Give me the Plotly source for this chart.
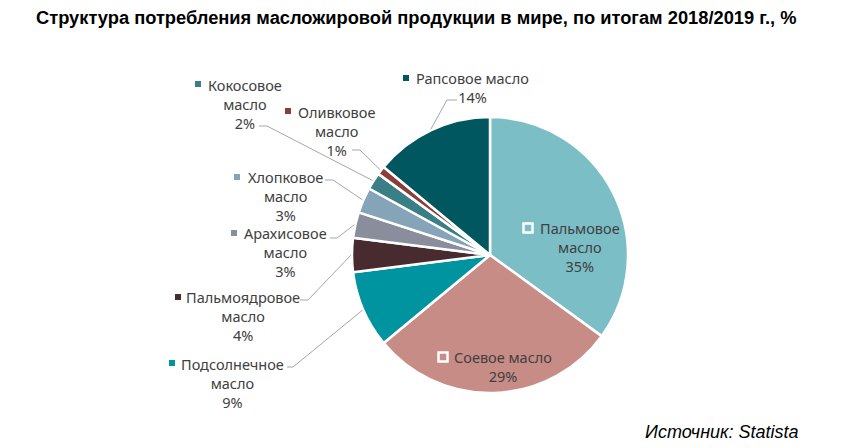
import math
import plotly.graph_objects as go

# ---- data ----
labels = ["Пальмовое масло", "Соевое масло", "Подсолнечное масло", "Пальмоядровое масло",
          "Арахисовое масло", "Хлопковое масло", "Кокосовое масло", "Оливковое масло",
          "Рапсовое масло"]
values = [35, 29, 9, 4, 3, 3, 2, 1, 14]
label_lines = [["Пальмовое", "масло"], ["Соевое масло"], ["Подсолнечное", "масло"],
               ["Пальмоядровое", "масло"], ["Арахисовое", "масло"], ["Хлопковое", "масло"],
               ["Кокосовое", "масло"], ["Оливковое", "масло"], ["Рапсовое масло"]]
colors = ["#7BBEC6", "#C78C86", "#0094A0", "#472B2F", "#8A8D9B", "#86A4B8",
          "#3A7F85", "#8B3E37", "#005760"]

title_text = "Структура потребления масложировой продукции в мире, по итогам 2018/2019 г., %"
source_text = "Источник: Statista"

# ---- layout (pixels) ----
W, H = 847, 448
CX, CY, R = 490, 255, 138
FONT_SIZE = 14.5
LINE_H = 1.3 * FONT_SIZE

def px(x):
    return x / W

def py(y):
    return 1 - y / H

# first-line center, marker position, inside flag, leader (start_x, knee_x, y)
label_layout = [
    dict(cx=580, fy=228, mx=528, my=228, inside=True, lead=None),
    dict(cx=503, fy=357, mx=443, my=357, inside=True, lead=None),
    dict(cx=232, fy=364, mx=172, my=363, inside=False, lead=(287, 293, 367)),
    dict(cx=243, fy=297, mx=178, my=297, inside=False, lead=(300, 308, 300)),
    dict(cx=285, fy=233, mx=234, my=233, inside=False, lead=(330, 337, 238)),
    dict(cx=285, fy=177, mx=237, my=177, inside=False, lead=(325, 333, 180)),
    dict(cx=245, fy=85, mx=198, my=84, inside=False, lead=(259, 267, 126)),
    dict(cx=336, fy=112, mx=288, my=111, inside=False, lead=(352, 360, 150)),
    dict(cx=472, fy=78, mx=406, my=78, inside=False, lead=(457, 447, 100)),
]

fig = go.Figure()
fig.add_trace(go.Pie(
    labels=labels, values=values, sort=False, direction="clockwise", rotation=0,
    marker=dict(colors=colors, line=dict(color="white", width=2.5)),
    textinfo="none", hoverinfo="label+percent", showlegend=False,
    domain=dict(x=[px(CX - R), px(CX + R)], y=[py(CY + R), py(CY - R)]),
))

label_font = dict(family="Noto Sans", size=FONT_SIZE, color="#404040")
total = sum(values)
annotations = []
shapes = []
cum = 0
for v, lines, col, lay in zip(values, label_lines, colors, label_layout):
    mid = (cum + v / 2) / total * 2 * math.pi
    cum += v
    pct = f"{round(v / total * 100)}%"
    all_lines = lines + [pct]
    block_center = lay["fy"] + (len(all_lines) - 1) * LINE_H / 2
    annotations.append(dict(
        x=px(lay["cx"]), y=py(block_center), xref="paper", yref="paper",
        text="<br>".join(all_lines), showarrow=False, align="center",
        xanchor="center", yanchor="middle", font=label_font, borderpad=0,
    ))
    mx, my = lay["mx"], lay["my"]
    if lay["inside"]:
        s = 4.5
        shapes.append(dict(type="rect", xref="paper", yref="paper",
                           x0=px(mx - s), x1=px(mx + s), y0=py(my + s), y1=py(my - s),
                           line=dict(color="white", width=2.5), fillcolor="rgba(0,0,0,0)"))
    else:
        s = 3
        shapes.append(dict(type="rect", xref="paper", yref="paper",
                           x0=px(mx - s), x1=px(mx + s), y0=py(my + s), y1=py(my - s),
                           line=dict(width=0), fillcolor=col))
    if lay["lead"] is not None:
        sx, kx, ly = lay["lead"]
        rr = R + 1
        ex = CX + rr * math.sin(mid)
        ey = CY - rr * math.cos(mid)
        path = f"M {px(sx)} {py(ly)} L {px(kx)} {py(ly)} L {px(ex)} {py(ey)}"
        shapes.append(dict(type="path", xref="paper", yref="paper", path=path,
                           line=dict(color="#A6A6A6", width=1)))

annotations.append(dict(
    x=px(416), y=py(18), xref="paper", yref="paper", text=f"<b>{title_text}</b>",
    showarrow=False, xanchor="center", yanchor="middle",
    font=dict(family="Liberation Sans", size=18.3, color="#000000"),
))
annotations.append(dict(
    x=px(801), y=py(432), xref="paper", yref="paper", text=f"<i>{source_text}</i>",
    showarrow=False, xanchor="right", yanchor="middle",
    font=dict(family="Liberation Sans", size=18, color="#000000"),
))

fig.update_layout(
    width=W, height=H, margin=dict(l=0, r=0, t=0, b=0),
    paper_bgcolor="white", plot_bgcolor="white",
    annotations=annotations, shapes=shapes,
)

fig.write_html("out.html", config={"displayModeBar": False},
               post_script="document.body.style.margin='0px';")
